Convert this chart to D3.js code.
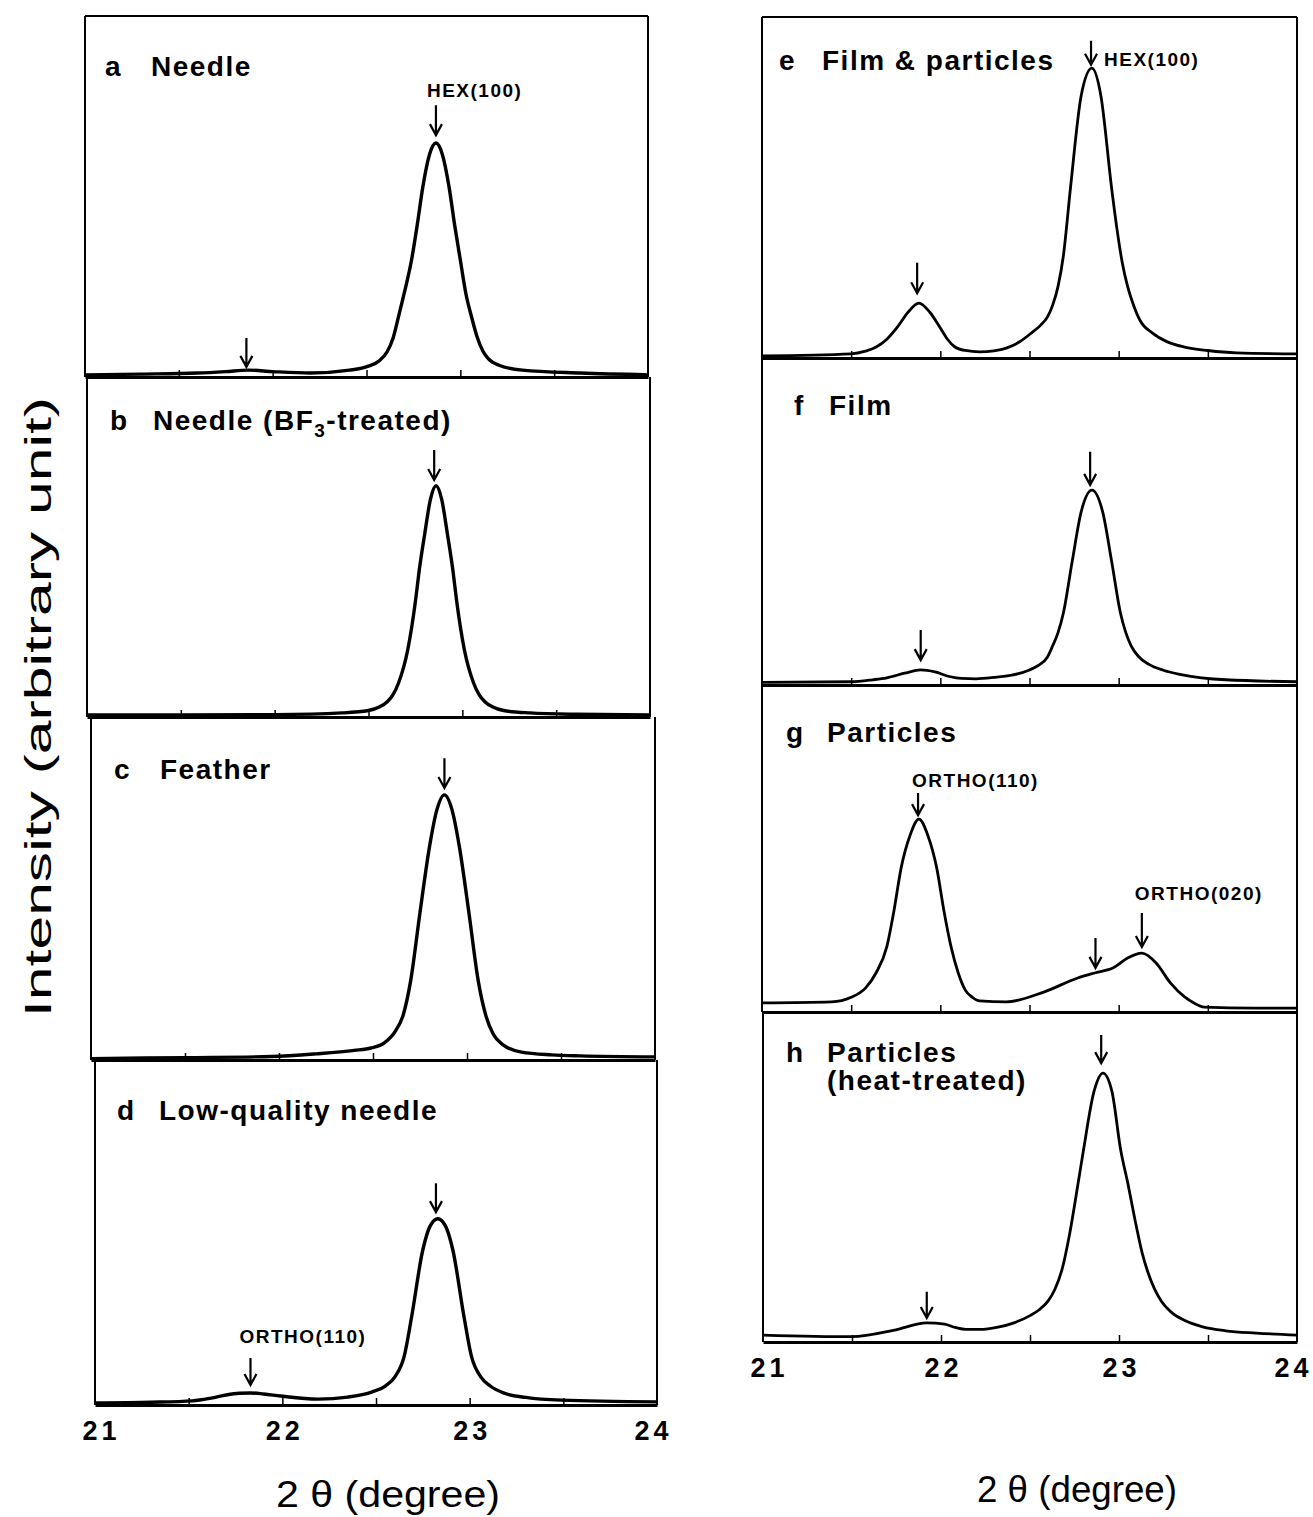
<!DOCTYPE html>
<html>
<head>
<meta charset="utf-8">
<script src="https://cdn.jsdelivr.net/npm/d3@7"></script>
<style>
  body { margin: 0; background: #fff; }
  svg { display: block; font-family: "Liberation Sans", Arial, Helvetica, sans-serif; }
</style>
</head>
<body>
<div id="chart"></div>
<script>
// XRD profiles, 2θ (degree) vs intensity (% of panel height)
const thetaA = [21.0, 21.3, 21.6, 21.75, 21.87, 22.0, 22.2, 22.41, 22.51, 22.57, 22.61, 22.64, 22.67, 22.70, 22.74, 22.77, 22.80, 22.835, 22.87,
                22.905, 22.94, 22.97, 23.00, 23.03, 23.06, 23.09, 23.12, 23.15, 23.21, 23.33, 23.64, 24.0];
const intA   = [0.6, 0.8, 1.1, 1.5, 1.9, 1.5, 1.1, 1.9, 3.0, 4.6, 7.0, 10.5, 16.6, 23, 32.4, 42, 52.6, 61.5, 64.8,
                61.5, 52.6, 42, 32.4, 23, 16.6, 11, 7.2, 5.0, 3.2, 1.9, 1.1, 0.6];

const thetaB = [21.0, 21.5, 22.0, 22.36, 22.50, 22.56, 22.60, 22.63, 22.66, 22.71, 22.75, 22.77, 22.80, 22.83, 22.86,
                22.89, 22.92, 22.95, 22.97, 23.01, 23.06, 23.09, 23.12, 23.16, 23.22, 23.36, 23.6, 24.0];
const intB   = [0.6, 0.6, 0.7, 1.2, 1.9, 3.0, 4.5, 6.5, 10, 20, 34, 43, 54, 64, 68,
                64, 54, 43, 34, 20, 10, 6.5, 4.5, 3.0, 1.9, 1.2, 0.8, 0.6];

const thetaC = [21.0, 21.5, 21.96, 22.2, 22.40, 22.49, 22.56, 22.62, 22.66, 22.70, 22.75, 22.80, 22.84, 22.88,
                22.92, 22.96, 23.01, 23.06, 23.10, 23.14, 23.19, 23.29, 23.45, 23.6, 24.0];
const intC   = [0.4, 0.7, 1.0, 1.8, 2.8, 3.5, 5.0, 8.5, 13, 23, 43, 62, 73, 77.3,
                73, 62, 43, 23, 13, 7.5, 4.5, 2.3, 1.5, 1.2, 0.9];

const thetaD = [21.0, 21.3, 21.52, 21.62, 21.70, 21.77, 21.83, 21.90, 21.99, 22.19, 22.35, 22.48, 22.55, 22.60, 22.65, 22.69, 22.75, 22.79, 22.83,
                22.87, 22.91, 22.97, 23.01, 23.06, 23.11, 23.18, 23.30, 23.49, 24.0];
const intD   = [0.6, 0.8, 1.2, 2.0, 2.9, 3.4, 3.5, 3.2, 2.6, 1.7, 2.3, 3.8, 5.5, 8.1, 14, 25.5, 45, 52, 54,
                52, 45, 25.5, 14, 8.1, 5.5, 3.5, 2.2, 1.4, 0.9];

const thetaE = [21.0, 21.5, 21.58, 21.64, 21.70, 21.76, 21.82, 21.88, 21.94, 22.0, 22.04, 22.08, 22.14, 22.22, 22.30, 22.37, 22.44,
                22.51, 22.56, 22.60, 22.63, 22.66, 22.69, 22.73, 22.79, 22.85, 22.90, 22.96, 22.99, 23.02, 23.05, 23.08, 23.12, 23.19, 23.27, 23.37, 23.5, 23.66, 24.0];
const intE   = [0.6, 1.2, 2.0, 3.2, 5.5, 9.1, 13.5, 16.1, 13.5, 8.8, 5.5, 3.3, 2.2, 1.8, 2.1, 2.9, 4.6,
                7.3, 9.5, 12, 15.5, 21, 30, 50, 77, 85, 77, 50, 38, 28, 21, 16, 11, 7.3, 4.8, 3.2, 2.2, 1.5, 1.2];

const thetaF = [21.0, 21.5, 21.62, 21.7, 21.8, 21.89, 21.97, 22.05, 22.12, 22.2, 22.3, 22.4, 22.5, 22.55, 22.6, 22.63, 22.66, 22.69, 22.74, 22.79, 22.85,
                22.91, 22.96, 23.01, 23.04, 23.07, 23.11, 23.17, 23.25, 23.35, 23.6, 24.0];
const intF   = [0.8, 1.0, 1.6, 2.2, 3.6, 4.6, 4.0, 2.6, 2.0, 1.9, 2.3, 3.0, 4.6, 6.0, 8.5, 12, 16, 22, 38, 53, 59.6,
                53, 38, 22, 16, 12, 8.8, 6.3, 4.5, 3.2, 1.6, 1.0];

const thetaG = [21.0, 21.39, 21.50, 21.58, 21.64, 21.70, 21.74, 21.78, 21.83, 21.88, 21.93, 21.98, 22.02, 22.06, 22.10, 22.14, 22.18, 22.22,
                22.37, 22.58, 22.77, 22.87, 22.97, 23.05, 23.13, 23.21, 23.29, 23.37, 23.42, 23.48, 23.76, 24.0];
const intG   = [2.8, 3.1, 4.5, 7.3, 12, 20, 31, 44, 54, 59, 54, 44, 31, 20, 12, 6.7, 4.5, 3.4,
                3.1, 6.1, 10.4, 12, 13.5, 16.5, 18, 15, 8.9, 4.6, 2.8, 1.5, 1.2, 1.2];

const thetaH = [21.0, 21.5, 21.74, 21.92, 22.02, 22.08, 22.14, 22.22, 22.32, 22.41, 22.50, 22.55, 22.60, 22.64, 22.68, 22.72, 22.77, 22.80, 22.86, 22.91,
                22.96, 23.01, 23.05, 23.09, 23.13, 23.16, 23.20, 23.24, 23.29, 23.37, 23.47, 23.6, 23.77, 24.0];
const intH   = [2.1, 1.6, 3.6, 5.8, 5.4, 4.4, 3.8, 3.8, 4.5, 5.8, 8, 9.7, 12.3, 16, 22, 32, 48, 58, 76, 81.5,
                76, 58, 48, 37, 27, 21.5, 16, 12.2, 9.2, 6.5, 4.6, 3.4, 2.7, 2.1];

const panelLetters = ['a', 'b', 'c', 'd', 'e', 'f', 'g', 'h'];
const panelNames = ['Needle', 'Needle (BF|3|-treated)', 'Feather', 'Low-quality needle',
                    'Film & particles', 'Film', 'Particles', 'Particles\n(heat-treated)'];

// peak markers: panel, 2θ, arrow top and tip (intensity units)
const arrowPanel = ['a', 'a', 'b', 'c', 'd', 'd', 'e', 'e', 'f', 'f', 'g', 'g', 'g', 'h', 'h'];
const arrowTheta = [22.87, 21.86, 22.85, 22.88, 22.82, 21.83, 22.845, 21.87, 22.84, 21.89, 21.875, 22.87, 23.13, 22.90, 21.92];
const arrowTop   = [75.3, 10.8, 78.5, 88, 64.3, 13.6, 93, 27.9, 71.3, 16.8, 67, 22.6, 30.3, 93, 15.2];
const arrowTip   = [67.0, 2.8, 69.7, 79.3, 55.9, 5.8, 86, 19, 61.2, 7.6, 60.2, 13.5, 19.9, 84.5, 7.3];

// peak labels: panel, 2θ of the arrow, baseline level
const peakLabelPanel = ['a', 'd', 'e', 'g', 'g'];
const peakLabelText  = ['HEX(100)', 'ORTHO(110)', 'HEX(100)', 'ORTHO(110)', 'ORTHO(020)'];
const peakLabelTheta = [22.87, 21.83, 22.845, 21.875, 23.13];
const peakLabelLevel = [77.6, 18, 85.6, 68.8, 34.3];

const minorTicks = [21.5, 22, 22.5, 23, 23.5];
const tickLabels = [21, 22, 23, 24];

const profiles = {
  a: [thetaA, intA], b: [thetaB, intB], c: [thetaC, intC], d: [thetaD, intD],
  e: [thetaE, intE], f: [thetaF, intF], g: [thetaG, intG], h: [thetaH, intH]
};

// panel frames (the scanned figure is slightly skewed on the left)
const layout = {
  a: { x0: 85, x1: 648, top: 16, bottom: 377, sw: 3.4 },
  b: { x0: 87, x1: 650, top: 377, bottom: 717, sw: 3.4 },
  c: { x0: 91, x1: 655, top: 717, bottom: 1060, sw: 3.4 },
  d: { x0: 95, x1: 657, top: 1060, bottom: 1405, sw: 3.4 },
  e: { x0: 762, x1: 1297, top: 17, bottom: 358, sw: 2.8 },
  f: { x0: 762, x1: 1297, top: 358, bottom: 685, sw: 2.8 },
  g: { x0: 762, x1: 1297, top: 685, bottom: 1012, sw: 2.8 },
  h: { x0: 763, x1: 1297, top: 1012, bottom: 1342, sw: 2.8 }
};
const titlePos = {
  a: [105, 76, 151], b: [110, 430, 153], c: [114, 779, 160], d: [117, 1120, 159],
  e: [779, 70, 822], f: [794, 415, 829], g: [786, 742, 827], h: [786, 1062, 827]
};
const labelDx = [-9, -11, 13, -6, -7];

const svg = d3.select('#chart').append('svg')
  .attr('width', 1313)
  .attr('height', 1517);

const scales = {};
panelLetters.forEach((id, i) => {
  const L = layout[id];
  const x = d3.scaleLinear().domain([21, 24]).range([L.x0, L.x1]);
  const y = d3.scaleLinear().domain([0, 100]).range([L.bottom, L.top]);
  scales[id] = { x, y };
  const g = svg.append('g').attr('class', 'panel-' + id);

  // frame
  g.append('line').attr('x1', L.x0).attr('x2', L.x0).attr('y1', L.top).attr('y2', L.bottom)
    .attr('stroke', '#000').attr('stroke-width', 2);
  g.append('line').attr('x1', L.x1).attr('x2', L.x1).attr('y1', L.top).attr('y2', L.bottom)
    .attr('stroke', '#000').attr('stroke-width', 2);
  if (id === 'a' || id === 'e') {
    g.append('line').attr('x1', L.x0).attr('x2', L.x1).attr('y1', L.top).attr('y2', L.top)
      .attr('stroke', '#000').attr('stroke-width', 2);
  }

  // axis with small inner ticks
  const axis = d3.axisBottom(x).tickValues(minorTicks).tickSize(-7).tickSizeOuter(0).tickFormat('');
  const ax = g.append('g').attr('transform', `translate(0,${L.bottom})`).call(axis);
  ax.select('.domain').attr('stroke-width', 3);
  ax.selectAll('.tick line').attr('stroke-width', 1.5);

  // profile
  const [th, it] = profiles[id];
  const pts = th.map((t, k) => ({ t, v: it[k] }));
  const line = d3.line().x(d => x(d.t)).y(d => y(d.v)).curve(d3.curveMonotoneX);
  g.append('path').datum(pts).attr('d', line)
    .attr('fill', 'none').attr('stroke', '#000').attr('stroke-width', L.sw)
    .attr('stroke-linejoin', 'round');

  // title
  const tp = titlePos[id];
  g.append('text').attr('x', tp[0]).attr('y', tp[1])
    .attr('font-size', 28).attr('font-weight', 'bold').text(id);
  const lines = panelNames[i].split('\n');
  lines.forEach((ln, j) => {
    const t = g.append('text').attr('x', tp[2]).attr('y', tp[1] + j * 28)
      .attr('font-size', 28).attr('font-weight', 'bold').attr('letter-spacing', 1.5);
    const parts = ln.split('|');
    if (parts.length === 3) {
      t.append('tspan').text(parts[0]);
      t.append('tspan').attr('font-size', 19).attr('dy', 7).text(parts[1]);
      t.append('tspan').attr('dy', -7).text(parts[2]);
    } else {
      t.text(ln);
    }
  });
});

// arrows
arrowPanel.forEach((id, i) => {
  const { x, y } = scales[id];
  const ax = x(arrowTheta[i]);
  const y1 = y(arrowTop[i]);
  const y2 = y(arrowTip[i]);
  svg.append('path')
    .attr('d', `M${ax},${y1}L${ax},${y2}M${ax - 6},${y2 - 11}L${ax},${y2}L${ax + 6},${y2 - 11}`)
    .attr('fill', 'none').attr('stroke', '#000').attr('stroke-width', 2.2);
});

// peak labels
peakLabelPanel.forEach((id, i) => {
  const { x, y } = scales[id];
  svg.append('text')
    .attr('x', x(peakLabelTheta[i]) + labelDx[i])
    .attr('y', y(peakLabelLevel[i]))
    .attr('font-size', 19).attr('font-weight', 'bold').attr('letter-spacing', 1.5)
    .text(peakLabelText[i]);
});

// tick labels under the bottom panels
[['d', 1438], ['h', 1375]].forEach(([id, ty]) => {
  const { x } = scales[id];
  const lab = d3.axisBottom(x).tickValues(tickLabels).tickSize(0).tickFormat(d3.format('d'));
  const g = svg.append('g').attr('transform', `translate(0,${ty - 20})`).call(lab);
  g.select('.domain').remove();
  g.selectAll('text')
    .attr('font-family', '"Liberation Sans", Arial, sans-serif')
    .attr('font-size', 27).attr('font-weight', 'bold').attr('letter-spacing', 4)
    .attr('fill', '#000')
    .attr('dx', d => d === 21 ? 6 : (d === 24 ? -4 : 2));
});

// axis titles
[[388, 1507, 224], [1077, 1502, 200]].forEach(([cx, cy, len]) => {
  svg.append('text').attr('x', cx).attr('y', cy)
    .attr('text-anchor', 'middle').attr('font-size', 36)
    .attr('textLength', len).attr('lengthAdjust', 'spacingAndGlyphs')
    .text('2 θ (degree)');
});
svg.append('text')
  .attr('transform', 'translate(51,707) rotate(-90)')
  .attr('text-anchor', 'middle').attr('font-size', 37)
  .attr('textLength', 620).attr('lengthAdjust', 'spacingAndGlyphs')
  .text('Intensity (arbitrary unit)');
</script>
</body>
</html>
